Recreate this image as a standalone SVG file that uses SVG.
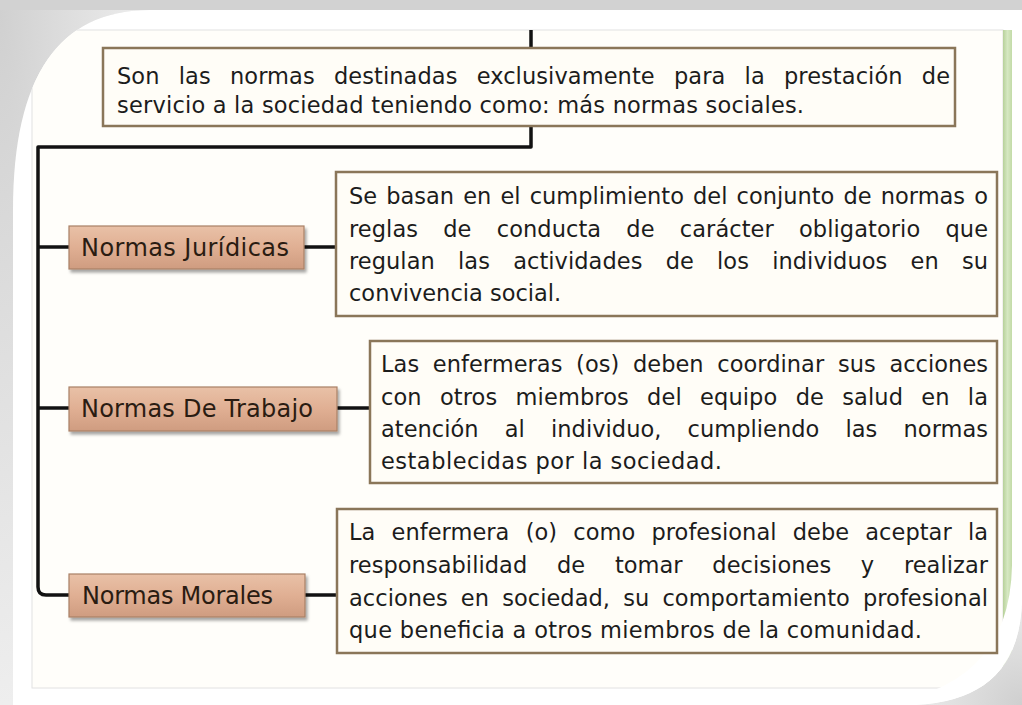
<svg xmlns="http://www.w3.org/2000/svg" width="1022" height="705" viewBox="0 0 1022 705">
<style>
.t{font-family:"DejaVu Sans","Liberation Sans",sans-serif;font-size:22.5px;fill:#1c1c1c}
.lbl{font-family:"DejaVu Sans","Liberation Sans",sans-serif;font-size:24px;fill:#2a1c12}
.desc{fill:#fffdf7;stroke:#8a7659;stroke-width:2.5}
.tag{fill:url(#tan);stroke:#a98066;stroke-width:1.2;filter:url(#sh)}
.ln{fill:none;stroke:#121212;stroke-width:3.5;stroke-linejoin:round;stroke-linecap:butt}
</style>
<defs>
<linearGradient id="tan" x1="0" y1="0" x2="0" y2="1">
<stop offset="0" stop-color="#e9c1a7"/>
<stop offset="0.5" stop-color="#e0af93"/>
<stop offset="1" stop-color="#cf9c80"/>
</linearGradient>
<linearGradient id="grn" x1="0" y1="0" x2="1" y2="0">
<stop offset="0" stop-color="#b7d19a"/>
<stop offset="0.5" stop-color="#d6e8c2"/>
<stop offset="1" stop-color="#c3dba8"/>
</linearGradient>
<radialGradient id="bgTL" cx="0" cy="0" r="1">
<stop offset="0" stop-color="#d0d0d0"/>
<stop offset="1" stop-color="#eeeeee"/>
</radialGradient>
<radialGradient id="bgBR" cx="1" cy="1" r="1">
<stop offset="0" stop-color="#cfcfcf"/>
<stop offset="1" stop-color="#ebebeb"/>
</radialGradient>
<clipPath id="card">
<path d="M13,210 Q13,10 150,10 L1022,10 L1022,600 Q1020,700 915,705 L13,705 Z"/>
</clipPath>
<filter id="sh" x="-10%" y="-20%" width="125%" height="160%">
<feDropShadow dx="2" dy="3" stdDeviation="1.8" flood-color="#000" flood-opacity="0.35"/>
</filter>
</defs>

<g id="background">
<rect x="0" y="0" width="1022" height="705" fill="#dadada"/>
<path d="M0,10 L150,10 Q13,10 13,210 L13,705 L0,705 Z" fill="url(#bgTL)"/>
<path d="M1022,600 Q1020,700 915,705 L1022,705 Z" fill="url(#bgBR)"/>
<rect x="0" y="0" width="1022" height="10" fill="#d2d2d2"/>
<path d="M13,210 Q13,10 150,10 L1022,10 L1022,600 Q1020,700 915,705 L13,705 Z" fill="#ffffff"/>
<g clip-path="url(#card)">
<rect x="32" y="30" width="971" height="658" fill="#fffefa" stroke="#e2e2e2" stroke-width="1"/>
<rect x="1003" y="30" width="9" height="640" fill="url(#grn)"/>
<path d="M1012,565 Q1010,692 870,705 L1022,705 L1022,565 Z" fill="#ffffff"/>
</g>
</g>

<g id="connectors">
<line class="ln" x1="531" y1="30" x2="531" y2="48"/>
<path class="ln" d="M531,126 L531,147 L38,147 L38,587 Q38,595 46,595 L69,595"/>
<line class="ln" x1="38" y1="247" x2="69" y2="247"/>
<line class="ln" x1="38" y1="408" x2="69" y2="408"/>
<line class="ln" x1="304" y1="247" x2="336" y2="247"/>
<line class="ln" x1="337" y1="408" x2="370" y2="408"/>
<line class="ln" x1="305" y1="595" x2="337" y2="595"/>
</g>

<g id="top-box">
<rect class="desc" x="103" y="48" width="852" height="78"/>
<text class="t" x="117" y="84" word-spacing="12" textLength="833" lengthAdjust="spacing">Son las normas destinadas exclusivamente para la prestación de</text>
<text class="t" x="117" y="113" textLength="687" lengthAdjust="spacing">servicio a la sociedad teniendo como: más normas sociales.</text>
</g>

<g id="normas-juridicas">
<rect class="tag" x="69" y="226" width="235" height="43"/>
<text class="lbl" x="81" y="256" textLength="208" lengthAdjust="spacing">Normas Jurídicas</text>
</g>

<g id="desc-juridicas">
<rect class="desc" x="336" y="172" width="661" height="144"/>
<text class="t" x="349" y="204" word-spacing="2" textLength="639" lengthAdjust="spacing">Se basan en el cumplimiento del conjunto de normas o</text>
<text class="t" x="349" y="237" word-spacing="18" textLength="639" lengthAdjust="spacing">reglas de conducta de carácter obligatorio que</text>
<text class="t" x="349" y="269" word-spacing="16" textLength="639" lengthAdjust="spacing">regulan las actividades de los individuos en su</text>
<text class="t" x="349" y="301">convivencia social.</text>
</g>

<g id="normas-trabajo">
<rect class="tag" x="69" y="387" width="268" height="44"/>
<text class="lbl" x="81" y="417" textLength="232" lengthAdjust="spacing">Normas De Trabajo</text>
</g>

<g id="desc-trabajo">
<rect class="desc" x="370" y="341" width="627" height="142"/>
<text class="t" x="381" y="372" word-spacing="6.5" textLength="607" lengthAdjust="spacing">Las enfermeras (os) deben coordinar sus acciones</text>
<text class="t" x="381" y="405" word-spacing="11" textLength="607" lengthAdjust="spacing">con otros miembros del equipo de salud en la</text>
<text class="t" x="381" y="437" word-spacing="19" textLength="607" lengthAdjust="spacing">atención al individuo, cumpliendo las normas</text>
<text class="t" x="381" y="469" textLength="341" lengthAdjust="spacing">establecidas por la sociedad.</text>
</g>

<g id="normas-morales">
<rect class="tag" x="69" y="574" width="236" height="43"/>
<text class="lbl" x="82" y="604" textLength="191" lengthAdjust="spacing">Normas Morales</text>
</g>

<g id="desc-morales">
<rect class="desc" x="337" y="509" width="660" height="144"/>
<text class="t" x="349" y="540" word-spacing="9" textLength="639" lengthAdjust="spacing">La enfermera (o) como profesional debe aceptar la</text>
<text class="t" x="349" y="573" word-spacing="22.5" textLength="639" lengthAdjust="spacing">responsabilidad de tomar decisiones y realizar</text>
<text class="t" x="349" y="606" word-spacing="6" textLength="639" lengthAdjust="spacing">acciones en sociedad, su comportamiento profesional</text>
<text class="t" x="349" y="638" textLength="573" lengthAdjust="spacing">que beneficia a otros miembros de la comunidad.</text>
</g>
</svg>
